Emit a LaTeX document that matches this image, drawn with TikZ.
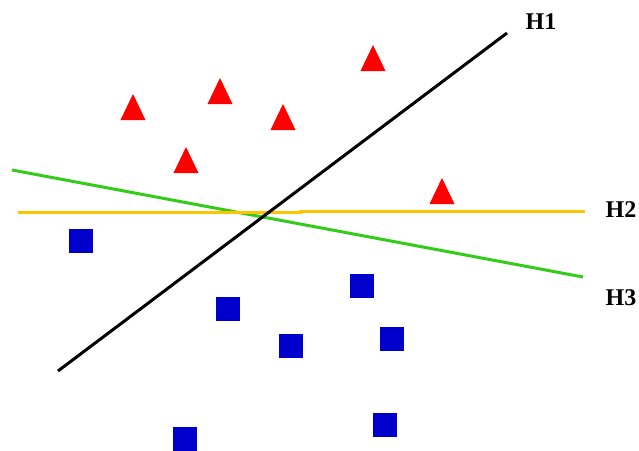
\documentclass[tikz,border=0pt]{standalone}
\usepackage{fontspec}
\setmainfont{Liberation Serif}
\definecolor{tri}{RGB}{255,0,0}
\definecolor{sq}{RGB}{0,0,204}
\definecolor{hone}{RGB}{0,0,0}
\definecolor{htwo}{RGB}{255,196,0}
\definecolor{hthree}{RGB}{51,204,25}
\begin{document}
\begin{tikzpicture}[x=1pt,y=-1pt,
  sqbox/.style={fill=sq,draw=none,minimum size=24pt,inner sep=0pt,outer sep=0pt},
  hline/.style={line width=3pt},
  lbl/.style={font=\bfseries\fontsize{24}{24}\selectfont,inner sep=0pt}]
\useasboundingbox (0,0) rectangle (639,450);
% triangles (center x, center y)
\foreach \x/\y [count=\i] in {133/107,220/91,283/117,186/160,373/58,442/191}{
  \fill[tri] (\x-12.5,\y+13) -- (\x+12.5,\y+13) -- (\x,\y-13) -- cycle;
}
% squares
\node[sqbox] (s1) at (81,241) {};
\node[sqbox] (s2) at (228,309) {};
\node[sqbox] (s3) at (362,286) {};
\node[sqbox] (s4) at (392,339) {};
\node[sqbox] (s5) at (291,346) {};
\node[sqbox] (s6) at (185,439) {};
\node[sqbox] (s7) at (385,425) {};
% hyperplanes
\coordinate (h1a) at (58,371);
\coordinate (h1b) at (507,33);
\coordinate (h2a) at (18,212.5);
\coordinate (h2m) at (300,212.5);
\coordinate (h2n) at (300,211);
\coordinate (h2b) at (585,211);
\coordinate (h3a) at (12,170);
\coordinate (h3b) at (583,277);
\draw[hline,hthree] (h3a) -- (h3b);
\draw[hline,htwo] (h2a) -- (h2m) -- (h2n) -- (h2b);
\draw[hline,hone] (h1a) -- (h1b);
% labels
\node[lbl] (l1) at (541,22) {H1};
\node[lbl] (l2) at (621,210) {H2};
\node[lbl] (l3) at (621,298) {H3};
\end{tikzpicture}
\end{document}
